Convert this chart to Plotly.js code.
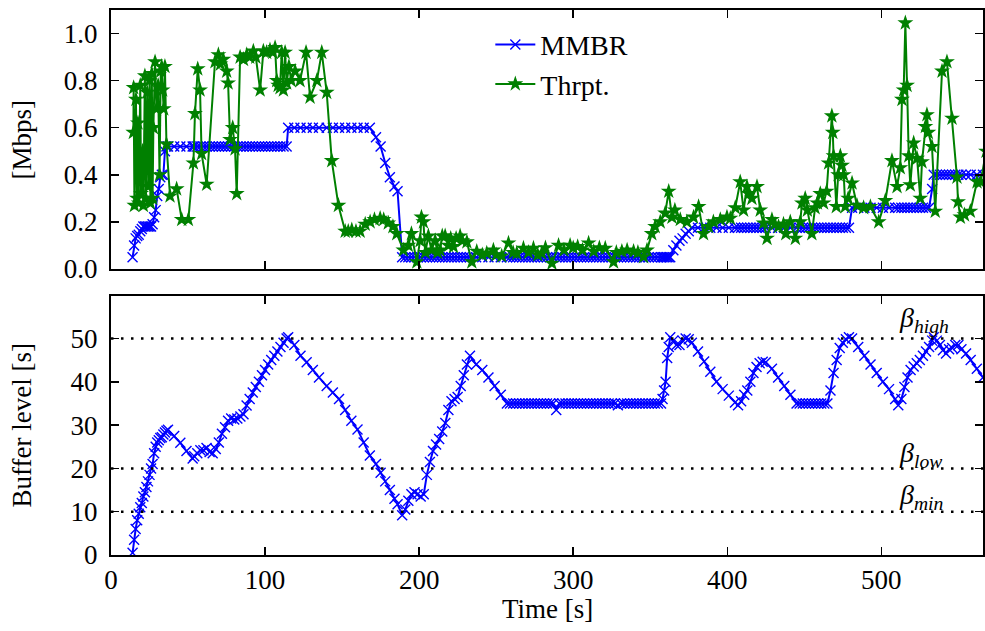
<!DOCTYPE html>
<html>
<head>
<meta charset="utf-8">
<script src="https://cdn.plot.ly/plotly-3.0.1.min.js"></script>
<style>html,body{margin:0;padding:0;background:#fff;}#chart{width:985px;height:631px;}</style>
</head>
<body>
<div id="chart"></div>
<script>
// Segment download times [s] (shared by MMBR and buffer level)
const time = [
  14,15,16,17,18,19,20,21,22,23,24,25,26,27,28,29,30,31,32,33,34,35,36,
  37,41,45,49,53,
  54,56,58,60,62,64,66,68,70,72,74,76,78,80,82,84,86,88,90,92,94,96,98,100,102,104,106,108,110,112,114,
  115,119,123,127,131,135,140,144,148,152,156,160,164,168,172,175,178,181,184,186,189,
  191,193,195,197,199,201,203,205,207,209,211,213,215,217,219,221,223,225,227,229,231,233,
  237,241,245,249,253,257,
  259,261,263,265,267,269,271,273,275,277,279,281,283,285,287,289,291,293,295,297,299,301,303,305,307,
  309,311,313,315,317,319,321,323,325,327,329,331,333,335,337,339,341,343,345,347,349,351,353,355,357,
  358,359,360,361,362,363,365,367,369,371,373,375,377,
  381,385,389,393,397,401,405,407,
  409,411,413,415,417,419,421,423,425,
  429,433,437,441,445,
  447,449,451,453,455,457,459,461,463,465,
  467,469,471,473,475,477,479,
  481,485,489,493,497,501,505,509,511,
  513,515,517,519,521,523,525,527,529,531,533,534,
  536,538,540,542,544,546,548,550,552,555,558,562,566
];
// MMBR selected bitrate [Mbps]
const mmbr = [
  .05,.10,.13,.14,.145,.16,.17,.18,.18,.18,.18,.18,.18,.19,.22,.25,.31,.34,.39,.40,.40,.50,.52,
  .52,.52,.52,.52,.52,
  .52,.52,.52,.52,.52,.52,.52,.52,.52,.52,.52,.52,.52,.52,.52,.52,.52,.52,.52,.52,.52,.52,.52,.52,.52,.52,.52,.52,.52,.52,.52,
  .6,.6,.6,.6,.6,.6,.6,.6,.6,.6,.6,.6,.6,.6,.56,.52,.45,.39,.35,.33,.05,
  .05,.05,.05,.05,.05,.05,.05,.05,.05,.05,.05,.05,.05,.05,.05,.05,.05,.05,.05,.05,.05,.05,
  .05,.05,.05,.05,.05,.05,
  .05,.05,.05,.05,.05,.05,.05,.05,.05,.05,.05,.05,.05,.05,.05,.05,.05,.05,.05,.05,.05,.05,.05,.05,.05,
  .05,.05,.05,.05,.05,.05,.05,.05,.05,.05,.05,.05,.05,.05,.05,.05,.05,.05,.05,.05,.05,.05,.05,.05,.05,
  .05,.05,.05,.05,.05,.05,.08,.10,.12,.13,.15,.16,.175,
  .175,.175,.175,.175,.175,.175,.175,.175,
  .175,.175,.175,.175,.175,.175,.175,.175,.175,
  .175,.175,.175,.175,.175,
  .175,.175,.175,.175,.175,.175,.175,.175,.175,.175,
  .175,.175,.175,.175,.175,.175,.175,
  .26,.26,.26,.26,.26,.26,.26,.26,.26,
  .26,.26,.26,.26,.26,.26,.26,.26,.26,.26,.34,.40,
  .40,.40,.40,.40,.40,.40,.40,.40,.40,.40,.40,.40,.40
];
// Buffer level [s]
const buffer = [
  0.5,3.5,6,8,9.5,11,12,13.5,14.5,15.7,17,18.5,20,21,23.5,25,26,26.5,27,27.2,27.8,28.3,28.7,
  28.9,27.5,25.9,24,22.3,
  22.8,23.5,24.2,24.2,24.7,23.8,23.5,24.5,26,28,29.5,31,31.5,31.3,31.5,32,32.5,34.5,36,37.5,38.8,40,41.5,42.7,44,45,46,47,48,49,50,
  50.3,48.5,46,44.5,42.7,41,39,37.5,36,33.5,31,29,26,23,21,19,17,15,13,11.7,9.2,
  10.5,12.5,14,14.5,14,13.5,14,18.5,21.5,24,25.5,26.8,28.5,30.5,33.5,35.5,36,36.5,39,41.5,44,46,
  44,42.7,41,39,37,35,
  35,35,35,35,35,35,35,35,35,35,35,35,35,35,35,33.5,35,35,35,35,35,35,35,35,35,
  35,35,35,35,35,35,35,35,35,35,34.6,35,35,35,35,35,35,35,35,35,35,35,35,35,35,
  36,38,40,45.5,48,50.3,49.5,48.5,48.5,49.5,50,49.8,49,
  47,44.7,42.3,40,38.3,36.8,35.2,34.6,
  35.5,37,38,40,42,43.4,44.3,44.6,44.5,
  43,41,39,37,35,
  35,35,35,35,35,35,35,35,35,35,
  38,42,45,47.8,49,49.8,50.3,
  50,48,46,44,42,40,38.3,36,34.6,
  36,38.8,41,42.7,43.5,44.3,45,46,47,48,49.5,50.3,
  49.5,48.5,47.3,46.5,47.5,47.8,48.5,48.5,47.5,46.5,45,43,41
];
// Measured throughput samples
const thrTime = [
  14.5,14.7,15.2,16.2,16.8,17.5,18,19,19.5,20.5,21,22,22.6,23.5,24.2,25,25.6,26.5,27,27.5,
  28.6,29.5,30.6,31.5,32.3,32.9,33.5,34.2,35,36,38.3,42.6,45.9,50.2,53.5,54.5,56.3,57.8,58.8,62.1,
  67.5,69.7,71,72.9,75.1,76,77.3,79,80.5,81.6,83.8,86,88.1,90,92.4,94,96.8,98.9,101,103.2,
  105,106.5,107.6,108.5,109.7,110.8,111.9,113,114,115.5,117,119.5,122.7,126.6,129.2,133.6,136.8,140,143.3,147.6,
  152,154,156.3,159,161.7,165,168.2,171,174.7,177,180,183,185.5,189.8,193,195,198.5,200.6,201.5,202.8,
  204,206,208,210.4,212,213.6,215,216.9,219,220.5,222.3,224,226.6,228,231,234.2,237.4,241,243.9,248.2,
  250,253.6,258,261,263.4,267.7,271,274.2,277,279.6,282,286.2,290.5,294,298,300,302.9,306,310,313.3,
  317,320.8,326.2,328,331.6,335,339.2,342,345.7,347.9,351,353.2,356.5,359.7,362,364.1,366,369.5,373.8,378.1,
  381.4,384.6,387.9,391,395.5,399.8,402,405.2,408.4,410.6,412.8,414,416,419.3,421.4,423.6,425.8,429,431,433.3,
  436.5,438,440.9,444.2,447.4,448.5,450.6,452,454.9,457,458.5,460.4,462.5,464.5,465.8,467.9,468.5,469,470.8,472,
  473.4,474.5,475.6,476.6,478.5,481,484.2,488.5,492.9,498.3,502.6,506.9,510.2,512.3,513.4,514.5,515.6,516.7,517.8,518.8,
  521,523.2,525.3,526.4,528.6,529.6,530.5,532.9,535,539.4,542.6,545.9,549.1,549.8,551.3,554,557.8,562.1,564.5,568
];
const thrpt = [
  .58,.77,.27,.72,.30,.62,.28,.78,.32,.50,.27,.82,.30,.75,.35,.80,.28,.83,.30,.60,
  .88,.68,.78,.40,.84,.86,.76,.68,.86,.53,.31,.34,.21,.21,.45,.66,.85,.76,.49,.36,
  .88,.91,.87,.89,.84,.79,.55,.60,.51,.32,.90,.89,.91,.90,.925,.90,.76,.925,.92,.93,
  .92,.94,.80,.78,.77,.92,.76,.92,.79,.86,.80,.84,.80,.92,.73,.80,.92,.75,.46,.27,
  .16,.16,.166,.16,.16,.19,.20,.21,.215,.21,.195,.18,.15,.08,.10,.15,.03,.12,.22,.20,
  .07,.14,.08,.12,.07,.08,.14,.14,.10,.13,.095,.13,.14,.12,.115,.03,.075,.06,.067,.08,
  .06,.055,.11,.07,.067,.088,.07,.088,.06,.067,.09,.024,.10,.08,.10,.09,.095,.08,.11,.075,
  .09,.088,.03,.07,.075,.08,.075,.07,.052,.08,.15,.18,.20,.237,.33,.22,.25,.21,.20,.22,
  .265,.15,.18,.20,.21,.22,.215,.26,.37,.25,.35,.32,.30,.35,.25,.195,.13,.21,.19,.18,
  .19,.15,.20,.13,.20,.28,.30,.25,.15,.26,.28,.32,.28,.33,.45,.65,.58,.48,.265,.40,
  .48,.44,.40,.265,.30,.365,.27,.26,.265,.20,.29,.46,.35,.43,.72,.76,1.045,.78,.48,.357,
  .535,.47,.30,.455,.605,.655,.58,.52,.245,.84,.88,.64,.39,.285,.22,.23,.245,.37,.37,.50
];
// Buffer thresholds
const thresholds = [50, 20, 10];
const thresholdLabels = ['<i>β</i><sub><i>high</i></sub>', '<i>β</i><sub><i>low</i></sub>', '<i>β</i><sub><i>min</i></sub>'];
const xTicks = [0, 100, 200, 300, 400, 500];

const FONT = '"Liberation Serif", "Times New Roman", serif';
const BLUE = '#0000ff', GREEN = '#008000';

const traces = [
  {x: time, y: mmbr, xaxis: 'x2', yaxis: 'y2', name: 'MMBR', mode: 'lines+markers',
   line: {color: BLUE, width: 2},
   marker: {symbol: 'x-thin-open', size: 10, color: BLUE, line: {color: BLUE, width: 1.4}}},
  {x: thrTime, y: thrpt, xaxis: 'x2', yaxis: 'y2', name: 'Thrpt.', mode: 'lines+markers',
   line: {color: GREEN, width: 2},
   marker: {symbol: 'star', size: 12, color: GREEN, line: {width: 0}}},
  {x: time, y: buffer, xaxis: 'x', yaxis: 'y', name: 'Buffer', showlegend: false, mode: 'lines+markers',
   line: {color: BLUE, width: 2},
   marker: {symbol: 'x-thin-open', size: 10, color: BLUE, line: {color: BLUE, width: 1.4}}}
];

const axCommon = {
  showline: true, linewidth: 2, linecolor: '#000', mirror: 'allticks',
  ticks: 'inside', ticklen: 8, tickwidth: 1.5, tickcolor: '#000',
  showgrid: false, zeroline: false,
  tickfont: {family: FONT, size: 27, color: '#000'}
};

const shapes = thresholds.map(v => ({
  type: 'line', xref: 'x domain', yref: 'y', x0: 0, x1: 1, y0: v, y1: v,
  line: {color: '#000', width: 2.5, dash: '2.5px,7.5px'}
}));

const annYs = [54.4, 23.3, 13.6];
const annotations = thresholds.map((v, i) => ({
  xref: 'x', yref: 'y', x: 510, y: annYs[i], xanchor: 'left', yanchor: 'middle',
  text: thresholdLabels[i], showarrow: false, font: {family: FONT, size: 28, color: '#000'}
}));
annotations.push(
  {xref: 'paper', yref: 'paper', x: 0, y: 0.7624, xanchor: 'center', yanchor: 'middle', xshift: -89,
   textangle: -90, text: '[Mbps]', showarrow: false, font: {family: FONT, size: 27, color: '#000'}},
  {xref: 'paper', yref: 'paper', x: 0, y: 0.2376, xanchor: 'center', yanchor: 'middle', xshift: -89,
   textangle: -90, text: 'Buffer level [s]', showarrow: false, font: {family: FONT, size: 27, color: '#000'}},
  {xref: 'paper', yref: 'paper', x: 0.5, y: 0, xanchor: 'center', yanchor: 'middle', yshift: -54,
   text: 'Time [s]', showarrow: false, font: {family: FONT, size: 27, color: '#000'}}
);

const layout = {
  width: 985, height: 631,
  margin: {l: 111, r: 2, t: 10, b: 76},
  paper_bgcolor: '#fff', plot_bgcolor: '#fff',
  showlegend: true,
  legend: {x: 0.435, y: 0.982, xanchor: 'left', yanchor: 'top', bgcolor: 'rgba(0,0,0,0)',
           font: {family: FONT, size: 28, color: '#000'}, tracegroupgap: 0, itemwidth: 40},
  xaxis: Object.assign({}, axCommon, {domain: [0, 1], anchor: 'y', range: [0, 566],
           tickvals: xTicks, ticklabelstandoff: 0}),
  xaxis2: Object.assign({}, axCommon, {domain: [0, 1], anchor: 'y2', matches: 'x', range: [0, 566],
           tickvals: xTicks, showticklabels: false}),
  yaxis: Object.assign({}, axCommon, {domain: [0, 0.4752], anchor: 'x', range: [0, 59.8],
           dtick: 10, ticklabelstandoff: 6}),
  yaxis2: Object.assign({}, axCommon, {domain: [0.5248, 1], anchor: 'x2', range: [0, 1.1],
           dtick: 0.2, tickformat: '.1f', ticklabelstandoff: 6}),
  shapes: shapes,
  annotations: annotations
};

Plotly.newPlot('chart', traces, layout, {staticPlot: true, displayModeBar: false});
</script>
</body>
</html>
